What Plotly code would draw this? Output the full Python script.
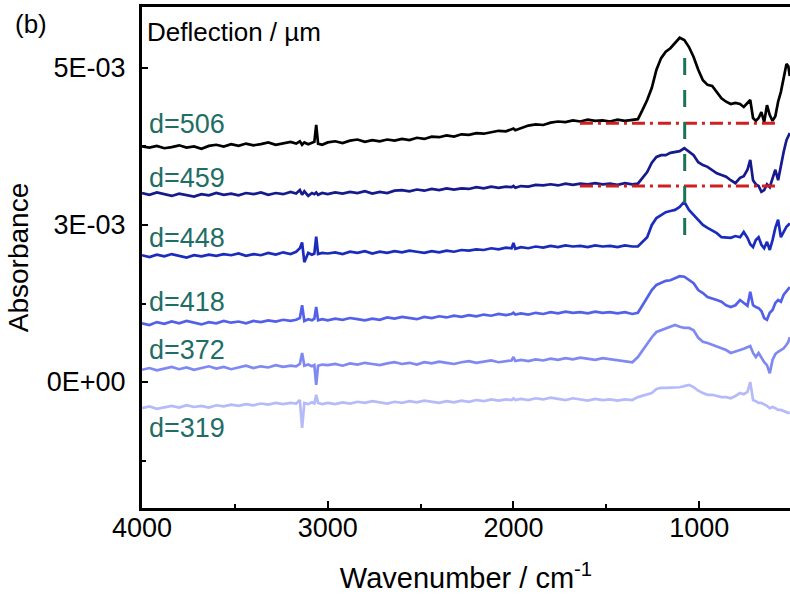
import plotly.graph_objects as go

# Wavenumber grid (cm^-1), shared by all spectra
wavenumber = [
    4000, 3960, 3920, 3880, 3840, 3800, 3760, 3720, 3680, 3640, 3600, 3560, 3520, 3480, 3440, 3400, 3360, 3320, 3280, 3240, 3200,
    3170, 3150, 3138, 3126, 3105, 3085, 3072, 3062, 3052, 3030,
    3000, 2960, 2920, 2880, 2840, 2800, 2760, 2720, 2680, 2640, 2600, 2560, 2520, 2480, 2440, 2400, 2360, 2320, 2280, 2240, 2200, 2160, 2120, 2080, 2040,
    2010, 2000, 1990,
    1960, 1920, 1880, 1840, 1800, 1760, 1720, 1680, 1640, 1600, 1560, 1520, 1480, 1440, 1400, 1360,
    1330, 1305, 1280, 1255, 1230, 1205, 1180, 1155, 1130, 1105, 1080, 1055, 1030, 1005, 980, 955, 930, 905, 880, 855, 830, 805, 780, 760, 740, 725, 710, 695, 680, 665, 650, 635, 620, 605, 590, 575, 560, 545, 530, 520, 512,
]

# Offset absorbance of each spectrum, in units of 1e-3
abs_d506 = [
    4.05, 4.03, 4.06, 4.02, 4.04, 4.07, 4.03, 4.05, 4.01, 4.06, 4.08, 4.05, 4.09, 4.06, 4.10, 4.07, 4.09, 4.12, 4.08, 4.11, 4.13,
    4.10, 4.14, 4.08, 4.12, 4.09, 4.11, 4.13, 4.42, 4.10, 4.08,
    4.12, 4.14, 4.11, 4.15, 4.17, 4.13, 4.16, 4.14, 4.17, 4.15, 4.18, 4.16, 4.20, 4.18, 4.22, 4.21, 4.24, 4.22, 4.26, 4.25, 4.28, 4.27, 4.30, 4.32, 4.31,
    4.34, 4.36, 4.33,
    4.37, 4.41, 4.43, 4.42, 4.46, 4.48, 4.47, 4.50, 4.48, 4.51, 4.49, 4.50, 4.48, 4.51, 4.49, 4.50,
    4.52, 4.68, 4.85, 5.06, 5.37, 5.57, 5.68, 5.74, 5.83, 5.92, 5.88, 5.76, 5.59, 5.37, 5.19, 5.11, 5.09, 4.99, 4.88, 4.82, 4.78, 4.80, 4.78, 4.73, 4.80, 4.85, 4.54, 4.49, 4.54, 4.64, 4.47, 4.76, 4.59, 4.49, 4.57, 4.82, 4.99, 5.23, 5.47, 5.43, 5.26,
]
abs_d459 = [
    3.25, 3.22, 3.26, 3.23, 3.20, 3.24, 3.22, 3.19, 3.23, 3.21, 3.25, 3.22, 3.24, 3.21, 3.25, 3.23, 3.26, 3.22, 3.25, 3.23, 3.27,
    3.24, 3.30, 3.22, 3.28, 3.20, 3.25, 3.23, 3.26, 3.22, 3.25,
    3.23, 3.26, 3.24, 3.27, 3.25, 3.28, 3.24, 3.27, 3.25, 3.29, 3.30, 3.28, 3.31, 3.29, 3.32, 3.30, 3.33, 3.31, 3.33, 3.32, 3.35, 3.33, 3.36, 3.34, 3.36,
    3.35, 3.37, 3.34,
    3.37, 3.36, 3.39, 3.38, 3.40, 3.38, 3.41, 3.39, 3.41, 3.40, 3.42, 3.40, 3.41, 3.39, 3.42, 3.40,
    3.41, 3.51, 3.61, 3.77, 3.87, 3.90, 3.90, 3.94, 3.96, 3.97, 4.02, 3.96, 3.90, 3.78, 3.73, 3.70, 3.65, 3.59, 3.56, 3.53, 3.47, 3.42, 3.51, 3.54, 3.65, 3.82, 3.47, 3.40, 3.37, 3.27, 3.30, 3.40, 3.35, 3.51, 3.65, 3.47, 3.73, 3.96, 4.16, 4.23, 4.28,
]
abs_d448 = [
    2.18, 2.15, 2.19, 2.16, 2.20, 2.17, 2.14, 2.18, 2.16, 2.19, 2.17, 2.20, 2.18, 2.21, 2.17, 2.20, 2.18, 2.22, 2.19, 2.23, 2.20,
    2.24, 2.30, 2.40, 2.06, 2.22, 2.19, 2.21, 2.50, 2.20, 2.22,
    2.21, 2.23, 2.20, 2.24, 2.22, 2.25, 2.21, 2.24, 2.22, 2.25, 2.23, 2.26, 2.24, 2.22, 2.25, 2.23, 2.26, 2.24, 2.27, 2.26, 2.28, 2.27, 2.30, 2.28, 2.31,
    2.30, 2.39, 2.29,
    2.32, 2.30, 2.33, 2.31, 2.34, 2.32, 2.35, 2.33, 2.34, 2.32, 2.35, 2.33, 2.34, 2.32, 2.35, 2.33,
    2.33, 2.41, 2.49, 2.70, 2.82, 2.87, 2.92, 2.94, 2.96, 3.01, 3.10, 2.96, 2.87, 2.79, 2.70, 2.65, 2.61, 2.56, 2.49, 2.48, 2.48, 2.51, 2.49, 2.58, 2.48, 2.37, 2.32, 2.44, 2.49, 2.36, 2.30, 2.41, 2.27, 2.44, 2.65, 2.79, 2.49, 2.58, 2.67, 2.70, 2.73,
]
abs_d418 = [
    1.01, 0.98, 1.03, 1.00, 1.04, 1.01, 1.05, 1.02, 0.99, 1.03, 1.01, 1.05, 1.02, 1.04, 1.01, 1.05, 1.03, 1.06, 1.04, 1.07, 1.05,
    1.07, 1.10, 1.32, 1.05, 1.08, 1.06, 1.09, 1.29, 1.06, 1.08,
    1.06, 1.09, 1.07, 1.10, 1.08, 1.06, 1.09, 1.07, 1.11, 1.09, 1.12, 1.10, 1.08, 1.12, 1.10, 1.13, 1.11, 1.14, 1.12, 1.15, 1.13, 1.16, 1.14, 1.17, 1.15,
    1.17, 1.19, 1.16,
    1.18, 1.16, 1.19, 1.17, 1.20, 1.18, 1.21, 1.19, 1.20, 1.18, 1.21, 1.19, 1.20, 1.18, 1.20, 1.17,
    1.19, 1.32, 1.44, 1.58, 1.67, 1.70, 1.74, 1.75, 1.79, 1.82, 1.81, 1.75, 1.70, 1.58, 1.53, 1.46, 1.44, 1.41, 1.38, 1.32, 1.29, 1.32, 1.41, 1.36, 1.31, 1.55, 1.32, 1.29, 1.27, 1.22, 1.10, 1.07, 1.19, 1.24, 1.36, 1.41, 1.38, 1.50, 1.56, 1.60, 1.63,
]
abs_d372 = [
    0.21, 0.24, 0.20, 0.23, 0.26, 0.22, 0.25, 0.21, 0.24, 0.27, 0.23, 0.26, 0.22, 0.25, 0.28, 0.24, 0.27, 0.25, 0.29, 0.26, 0.28,
    0.27, 0.31, 0.50, 0.28, 0.30, 0.27, 0.29, -0.05, 0.28, 0.30,
    0.29, 0.31, 0.28, 0.32, 0.30, 0.33, 0.31, 0.29, 0.32, 0.34, 0.31, 0.33, 0.30, 0.34, 0.32, 0.35, 0.33, 0.31, 0.34, 0.36, 0.33, 0.35, 0.37, 0.34, 0.36,
    0.37, 0.43, 0.36,
    0.38, 0.36, 0.39, 0.37, 0.40, 0.38, 0.41, 0.39, 0.42, 0.40, 0.38, 0.41, 0.39, 0.37, 0.35, 0.34,
    0.43, 0.55, 0.67, 0.77, 0.86, 0.89, 0.93, 0.96, 0.98, 0.95, 0.93, 0.93, 0.89, 0.76, 0.69, 0.67, 0.64, 0.60, 0.58, 0.55, 0.50, 0.52, 0.55, 0.57, 0.60, 0.62, 0.50, 0.43, 0.50, 0.41, 0.34, 0.29, 0.15, 0.38, 0.48, 0.52, 0.55, 0.58, 0.64, 0.69, 0.77,
]
abs_d319 = [
    -0.45, -0.42, -0.46, -0.43, -0.41, -0.44, -0.40, -0.43, -0.41, -0.44, -0.40, -0.42, -0.39, -0.41, -0.38, -0.40, -0.37, -0.39, -0.36, -0.38, -0.36,
    -0.37, -0.31, -0.79, -0.36, -0.38, -0.35, -0.37, -0.22, -0.36, -0.38,
    -0.36, -0.38, -0.35, -0.37, -0.34, -0.36, -0.33, -0.35, -0.37, -0.34, -0.36, -0.33, -0.35, -0.32, -0.34, -0.36, -0.33, -0.35, -0.32, -0.34, -0.31, -0.33, -0.30, -0.32, -0.30,
    -0.31, -0.28, -0.31,
    -0.29, -0.31, -0.28, -0.30, -0.27, -0.29, -0.31, -0.28, -0.30, -0.32, -0.29, -0.31, -0.30, -0.32, -0.30, -0.31,
    -0.26, -0.24, -0.22, -0.19, -0.12, -0.10, -0.10, -0.10, -0.09, -0.09, -0.07, -0.05, -0.09, -0.15, -0.19, -0.22, -0.22, -0.24, -0.26, -0.26, -0.28, -0.24, -0.19, -0.21, -0.17, 0.00, -0.31, -0.33, -0.36, -0.36, -0.38, -0.41, -0.45, -0.43, -0.45, -0.48, -0.48, -0.50, -0.52, -0.53, -0.53,
]

series_labels = ["d=506", "d=459", "d=448", "d=418", "d=372", "d=319"]
series_values = [abs_d506, abs_d459, abs_d448, abs_d418, abs_d372, abs_d319]
series_colors = ["#000000", "#151a8c", "#1b2cbc", "#5361ea", "#7f89f1", "#b5bbf8"]

# Baselines under the Si-O band (x1, x2 in cm^-1; level in 1e-3 units)
baseline_x = [1642, 566]
baseline_levels = [4.45, 3.37]
# Band position marker
band_center = 1078
band_span = [5.57, 2.44]

# Label placement (1e-3 units)
label_y = [4.44, 3.51, 2.48, 1.38, 0.55, -0.79]

y_ticks = [0, 2.7e-3, 5.4e-3]
y_ticktext = ["0E+00", "3E-03", "5E-03"]
y_minor = [-1.35e-3, 1.35e-3, 4.05e-3]
x_ticks = [4000, 3000, 2000, 1000]
x_minor = [3500, 2500, 1500]

assert all(len(v) == len(wavenumber) for v in series_values)

FONT = "Liberation Sans, Arial, sans-serif"
TEAL = "#1f6e66"

fig = go.Figure()
for name, vals, col in zip(series_labels, series_values, series_colors):
    fig.add_trace(go.Scatter(
        x=wavenumber, y=[v * 1e-3 for v in vals], mode="lines", name=name,
        line=dict(color=col, width=2.7), showlegend=False,
    ))

for lvl in baseline_levels:
    fig.add_trace(go.Scatter(
        x=baseline_x, y=[lvl * 1e-3, lvl * 1e-3], mode="lines", showlegend=False,
        line=dict(color="#d11f1f", width=3, dash="13px,5px,3px,5px"),
    ))

fig.add_trace(go.Scatter(
    x=[band_center, band_center], y=[v * 1e-3 for v in band_span], mode="lines",
    showlegend=False, line=dict(color="#1c7552", width=3, dash="17px,15px"),
))

for name, ly in zip(series_labels, label_y):
    fig.add_annotation(
        x=3975, y=ly * 1e-3, xref="x", yref="y", text=name, showarrow=False,
        xanchor="left", yanchor="middle", font=dict(family=FONT, size=27, color=TEAL),
    )

fig.add_annotation(
    x=0.004, y=0.951, xref="paper", yref="paper", text="Deflection / µm",
    showarrow=False, xanchor="left", yanchor="middle",
    font=dict(family=FONT, size=26, color="black"),
)
fig.add_annotation(
    x=-0.199, y=1.0, xref="paper", yref="paper", text="(b)",
    showarrow=False, xanchor="left", yanchor="top",
    font=dict(family=FONT, size=26, color="black"),
)

fig.update_layout(
    width=790, height=603,
    margin=dict(l=142, r=0, t=7, b=95),
    plot_bgcolor="white", paper_bgcolor="white",
    font=dict(family=FONT, color="black"),
    showlegend=False,
)
fig.update_xaxes(
    range=[4000, 511], tickvals=x_ticks, ticktext=[str(t) for t in x_ticks],
    ticks="inside", ticklen=7, tickwidth=2, tickcolor="black",
    minor=dict(tickvals=x_minor, ticks="inside", ticklen=4, tickwidth=2, tickcolor="black"),
    showline=True, linewidth=3, linecolor="black", mirror=True,
    showgrid=False, zeroline=False,
    tickfont=dict(family=FONT, size=27, color="black"),
    ticklabelstandoff=-6,
    title=dict(text="Wavenumber / cm<sup>-1</sup>", font=dict(family=FONT, size=29, color="black"), standoff=26),
)
fig.update_yaxes(
    range=[-2.1668e-3, 6.4488e-3], tickvals=y_ticks, ticktext=y_ticktext,
    ticks="inside", ticklen=6, tickwidth=2, tickcolor="black",
    minor=dict(tickvals=y_minor, ticks="inside", ticklen=4, tickwidth=2, tickcolor="black"),
    showline=True, linewidth=3, linecolor="black", mirror=False,
    showgrid=False, zeroline=False,
    tickfont=dict(family=FONT, size=27, color="black"),
    ticklabelstandoff=8,
    title=dict(text="Absorbance", font=dict(family=FONT, size=28, color="black"), standoff=10),
)

fig.write_html("out.html")
